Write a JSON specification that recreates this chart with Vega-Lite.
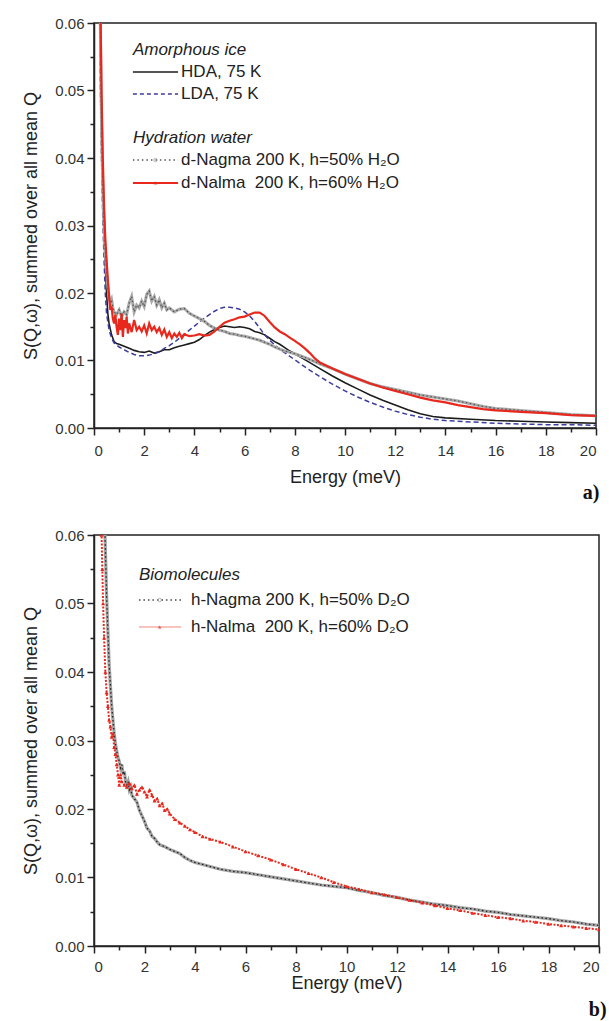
{
  "$schema": "https://vega.github.io/schema/vega-lite/v6.json",
  "background": "white",
  "padding": {"left": 22, "top": 15, "right": 0, "bottom": 0},
  "autosize": {"type": "pad"},
  "config": {
    "view": {"stroke": "#222", "strokeWidth": 1.5},
    "font": "Liberation Sans",
    "axis": {"domainColor": "#222", "domainWidth": 1.5, "tickColor": "#222", "tickWidth": 1.5, "labelColor": "#333", "labelFont": "Liberation Sans", "labelFontSize": 15, "titleFont": "Liberation Sans", "titleFontWeight": "normal", "titleColor": "#222", "titleFontSize": 18, "grid": false}
  },
  "datasets": {
    "top": [
      {"s":"HDA","E":0.15,"S":0.09},{"s":"HDA","E":0.2,"S":0.075},{"s":"HDA","E":0.25,"S":0.058},{"s":"HDA","E":0.3,"S":0.045},{"s":"HDA","E":0.35,"S":0.036},{"s":"HDA","E":0.4,"S":0.029},{"s":"HDA","E":0.45,"S":0.024},{"s":"HDA","E":0.5,"S":0.02},{"s":"HDA","E":0.55,"S":0.017},{"s":"HDA","E":0.6,"S":0.0155},{"s":"HDA","E":0.7,"S":0.0138},{"s":"HDA","E":0.8,"S":0.0128},{"s":"HDA","E":0.9,"S":0.0125},{"s":"HDA","E":1.0,"S":0.0124},{"s":"HDA","E":1.2,"S":0.0121},{"s":"HDA","E":1.4,"S":0.0118},{"s":"HDA","E":1.6,"S":0.0115},{"s":"HDA","E":1.8,"S":0.0113},{"s":"HDA","E":2.0,"S":0.0112},{"s":"HDA","E":2.2,"S":0.0114},{"s":"HDA","E":2.4,"S":0.0111},{"s":"HDA","E":2.6,"S":0.0113},{"s":"HDA","E":2.8,"S":0.0116},{"s":"HDA","E":3.0,"S":0.0116},{"s":"HDA","E":3.2,"S":0.0119},{"s":"HDA","E":3.4,"S":0.0121},{"s":"HDA","E":3.6,"S":0.0123},{"s":"HDA","E":3.8,"S":0.0125},{"s":"HDA","E":4.0,"S":0.0127},{"s":"HDA","E":4.2,"S":0.0131},{"s":"HDA","E":4.4,"S":0.0137},{"s":"HDA","E":4.6,"S":0.0142},{"s":"HDA","E":4.8,"S":0.0146},{"s":"HDA","E":5.0,"S":0.0149},{"s":"HDA","E":5.2,"S":0.0151},{"s":"HDA","E":5.4,"S":0.015},{"s":"HDA","E":5.6,"S":0.0149},{"s":"HDA","E":5.8,"S":0.015},{"s":"HDA","E":6.0,"S":0.0149},{"s":"HDA","E":6.2,"S":0.0147},{"s":"HDA","E":6.4,"S":0.0143},{"s":"HDA","E":6.6,"S":0.0141},{"s":"HDA","E":6.8,"S":0.0138},{"s":"HDA","E":7.0,"S":0.0133},{"s":"HDA","E":7.2,"S":0.0128},{"s":"HDA","E":7.4,"S":0.0124},{"s":"HDA","E":7.6,"S":0.0119},{"s":"HDA","E":7.8,"S":0.0114},{"s":"HDA","E":8.0,"S":0.011},{"s":"HDA","E":8.5,"S":0.0099},{"s":"HDA","E":9.0,"S":0.0088},{"s":"HDA","E":9.5,"S":0.0077},{"s":"HDA","E":10,"S":0.0067},{"s":"HDA","E":10.5,"S":0.0058},{"s":"HDA","E":11,"S":0.0049},{"s":"HDA","E":11.5,"S":0.0041},{"s":"HDA","E":12,"S":0.0034},{"s":"HDA","E":12.5,"S":0.0027},{"s":"HDA","E":13,"S":0.0021},{"s":"HDA","E":13.5,"S":0.0017},{"s":"HDA","E":14,"S":0.0015},{"s":"HDA","E":15,"S":0.0013},{"s":"HDA","E":16,"S":0.0011},{"s":"HDA","E":17,"S":0.001},{"s":"HDA","E":18,"S":0.0009},{"s":"HDA","E":19,"S":0.0008},{"s":"HDA","E":20,"S":0.0007},
      {"s":"LDA","E":0.15,"S":0.09},{"s":"LDA","E":0.2,"S":0.07},{"s":"LDA","E":0.25,"S":0.052},{"s":"LDA","E":0.3,"S":0.04},{"s":"LDA","E":0.35,"S":0.031},{"s":"LDA","E":0.4,"S":0.025},{"s":"LDA","E":0.45,"S":0.02},{"s":"LDA","E":0.5,"S":0.017},{"s":"LDA","E":0.6,"S":0.0145},{"s":"LDA","E":0.7,"S":0.0133},{"s":"LDA","E":0.8,"S":0.0126},{"s":"LDA","E":1.0,"S":0.012},{"s":"LDA","E":1.2,"S":0.0116},{"s":"LDA","E":1.4,"S":0.0112},{"s":"LDA","E":1.6,"S":0.0109},{"s":"LDA","E":1.8,"S":0.0107},{"s":"LDA","E":2.0,"S":0.0107},{"s":"LDA","E":2.2,"S":0.0108},{"s":"LDA","E":2.4,"S":0.011},{"s":"LDA","E":2.6,"S":0.0113},{"s":"LDA","E":2.8,"S":0.0118},{"s":"LDA","E":3.0,"S":0.0122},{"s":"LDA","E":3.2,"S":0.0127},{"s":"LDA","E":3.4,"S":0.0133},{"s":"LDA","E":3.6,"S":0.0139},{"s":"LDA","E":3.8,"S":0.0145},{"s":"LDA","E":4.0,"S":0.0151},{"s":"LDA","E":4.2,"S":0.0157},{"s":"LDA","E":4.4,"S":0.0163},{"s":"LDA","E":4.6,"S":0.0168},{"s":"LDA","E":4.8,"S":0.0173},{"s":"LDA","E":5.0,"S":0.0177},{"s":"LDA","E":5.2,"S":0.0179},{"s":"LDA","E":5.4,"S":0.0179},{"s":"LDA","E":5.6,"S":0.0178},{"s":"LDA","E":5.8,"S":0.0176},{"s":"LDA","E":6.0,"S":0.0172},{"s":"LDA","E":6.2,"S":0.0166},{"s":"LDA","E":6.4,"S":0.0158},{"s":"LDA","E":6.6,"S":0.0148},{"s":"LDA","E":6.8,"S":0.0138},{"s":"LDA","E":7.0,"S":0.013},{"s":"LDA","E":7.2,"S":0.0123},{"s":"LDA","E":7.5,"S":0.0114},{"s":"LDA","E":8.0,"S":0.0101},{"s":"LDA","E":8.5,"S":0.0088},{"s":"LDA","E":9.0,"S":0.0076},{"s":"LDA","E":9.5,"S":0.0065},{"s":"LDA","E":10,"S":0.0055},{"s":"LDA","E":10.5,"S":0.0046},{"s":"LDA","E":11,"S":0.0038},{"s":"LDA","E":11.5,"S":0.0031},{"s":"LDA","E":12,"S":0.0025},{"s":"LDA","E":12.5,"S":0.002},{"s":"LDA","E":13,"S":0.0016},{"s":"LDA","E":13.5,"S":0.0013},{"s":"LDA","E":14,"S":0.0011},{"s":"LDA","E":15,"S":0.0009},{"s":"LDA","E":16,"S":0.0007},{"s":"LDA","E":17,"S":0.0006},{"s":"LDA","E":18,"S":0.0005},{"s":"LDA","E":19,"S":0.0005},{"s":"LDA","E":20,"S":0.0004},
      {"s":"dNagma","E":0.2,"S":0.08},{"s":"dNagma","E":0.25,"S":0.06},{"s":"dNagma","E":0.3,"S":0.045},{"s":"dNagma","E":0.35,"S":0.036},{"s":"dNagma","E":0.4,"S":0.03},{"s":"dNagma","E":0.45,"S":0.026},{"s":"dNagma","E":0.5,"S":0.0235},{"s":"dNagma","E":0.55,"S":0.021},{"s":"dNagma","E":0.6,"S":0.0195},{"s":"dNagma","E":0.65,"S":0.0185},{"s":"dNagma","E":0.7,"S":0.019},{"s":"dNagma","E":0.75,"S":0.0178},{"s":"dNagma","E":0.8,"S":0.0172},{"s":"dNagma","E":0.9,"S":0.0168},{"s":"dNagma","E":1.0,"S":0.0175},{"s":"dNagma","E":1.1,"S":0.0165},{"s":"dNagma","E":1.2,"S":0.0172},{"s":"dNagma","E":1.3,"S":0.0168},{"s":"dNagma","E":1.4,"S":0.0185},{"s":"dNagma","E":1.5,"S":0.0195},{"s":"dNagma","E":1.6,"S":0.0172},{"s":"dNagma","E":1.7,"S":0.0182},{"s":"dNagma","E":1.8,"S":0.0178},{"s":"dNagma","E":1.9,"S":0.0188},{"s":"dNagma","E":2.0,"S":0.018},{"s":"dNagma","E":2.1,"S":0.0198},{"s":"dNagma","E":2.2,"S":0.0203},{"s":"dNagma","E":2.3,"S":0.0188},{"s":"dNagma","E":2.4,"S":0.0195},{"s":"dNagma","E":2.5,"S":0.0182},{"s":"dNagma","E":2.6,"S":0.019},{"s":"dNagma","E":2.7,"S":0.0178},{"s":"dNagma","E":2.8,"S":0.0185},{"s":"dNagma","E":2.9,"S":0.0175},{"s":"dNagma","E":3.0,"S":0.0178},{"s":"dNagma","E":3.2,"S":0.0172},{"s":"dNagma","E":3.4,"S":0.0176},{"s":"dNagma","E":3.6,"S":0.0177},{"s":"dNagma","E":3.8,"S":0.017},{"s":"dNagma","E":4.0,"S":0.0166},{"s":"dNagma","E":4.2,"S":0.0162},{"s":"dNagma","E":4.4,"S":0.0158},{"s":"dNagma","E":4.6,"S":0.0152},{"s":"dNagma","E":4.8,"S":0.0148},{"s":"dNagma","E":5.0,"S":0.0145},{"s":"dNagma","E":5.2,"S":0.0143},{"s":"dNagma","E":5.4,"S":0.014},{"s":"dNagma","E":5.6,"S":0.0139},{"s":"dNagma","E":5.8,"S":0.0137},{"s":"dNagma","E":6.0,"S":0.0136},{"s":"dNagma","E":6.2,"S":0.0134},{"s":"dNagma","E":6.4,"S":0.0132},{"s":"dNagma","E":6.6,"S":0.013},{"s":"dNagma","E":6.8,"S":0.0127},{"s":"dNagma","E":7.0,"S":0.0124},{"s":"dNagma","E":7.2,"S":0.012},{"s":"dNagma","E":7.4,"S":0.0117},{"s":"dNagma","E":7.6,"S":0.0114},{"s":"dNagma","E":7.8,"S":0.0112},{"s":"dNagma","E":8.0,"S":0.011},{"s":"dNagma","E":8.5,"S":0.0103},{"s":"dNagma","E":9.0,"S":0.0095},{"s":"dNagma","E":9.5,"S":0.0088},{"s":"dNagma","E":10,"S":0.008},{"s":"dNagma","E":10.5,"S":0.0073},{"s":"dNagma","E":11,"S":0.0066},{"s":"dNagma","E":11.5,"S":0.0061},{"s":"dNagma","E":12,"S":0.0057},{"s":"dNagma","E":12.5,"S":0.0053},{"s":"dNagma","E":13,"S":0.0049},{"s":"dNagma","E":13.5,"S":0.0046},{"s":"dNagma","E":14,"S":0.0043},{"s":"dNagma","E":14.5,"S":0.004},{"s":"dNagma","E":15,"S":0.0036},{"s":"dNagma","E":15.5,"S":0.0032},{"s":"dNagma","E":16,"S":0.0029},{"s":"dNagma","E":17,"S":0.0026},{"s":"dNagma","E":18,"S":0.0023},{"s":"dNagma","E":19,"S":0.002},{"s":"dNagma","E":20,"S":0.0018},
      {"s":"dNalma","E":0.2,"S":0.085},{"s":"dNalma","E":0.25,"S":0.065},{"s":"dNalma","E":0.3,"S":0.05},{"s":"dNalma","E":0.35,"S":0.04},{"s":"dNalma","E":0.4,"S":0.033},{"s":"dNalma","E":0.45,"S":0.028},{"s":"dNalma","E":0.5,"S":0.025},{"s":"dNalma","E":0.55,"S":0.022},{"s":"dNalma","E":0.6,"S":0.0195},{"s":"dNalma","E":0.65,"S":0.0175},{"s":"dNalma","E":0.7,"S":0.018},{"s":"dNalma","E":0.75,"S":0.0162},{"s":"dNalma","E":0.8,"S":0.0155},{"s":"dNalma","E":0.85,"S":0.0168},{"s":"dNalma","E":0.9,"S":0.015},{"s":"dNalma","E":0.95,"S":0.0138},{"s":"dNalma","E":1.0,"S":0.0162},{"s":"dNalma","E":1.05,"S":0.0145},{"s":"dNalma","E":1.1,"S":0.017},{"s":"dNalma","E":1.15,"S":0.0135},{"s":"dNalma","E":1.2,"S":0.016},{"s":"dNalma","E":1.25,"S":0.0148},{"s":"dNalma","E":1.3,"S":0.0165},{"s":"dNalma","E":1.35,"S":0.014},{"s":"dNalma","E":1.4,"S":0.0155},{"s":"dNalma","E":1.5,"S":0.0142},{"s":"dNalma","E":1.6,"S":0.016},{"s":"dNalma","E":1.7,"S":0.0145},{"s":"dNalma","E":1.8,"S":0.015},{"s":"dNalma","E":1.9,"S":0.0143},{"s":"dNalma","E":2.0,"S":0.0152},{"s":"dNalma","E":2.1,"S":0.014},{"s":"dNalma","E":2.2,"S":0.0155},{"s":"dNalma","E":2.3,"S":0.0145},{"s":"dNalma","E":2.4,"S":0.015},{"s":"dNalma","E":2.5,"S":0.0142},{"s":"dNalma","E":2.6,"S":0.0148},{"s":"dNalma","E":2.7,"S":0.0138},{"s":"dNalma","E":2.8,"S":0.0146},{"s":"dNalma","E":2.9,"S":0.0135},{"s":"dNalma","E":3.0,"S":0.0142},{"s":"dNalma","E":3.1,"S":0.0133},{"s":"dNalma","E":3.2,"S":0.014},{"s":"dNalma","E":3.3,"S":0.0135},{"s":"dNalma","E":3.4,"S":0.0141},{"s":"dNalma","E":3.5,"S":0.0133},{"s":"dNalma","E":3.6,"S":0.0139},{"s":"dNalma","E":3.8,"S":0.0136},{"s":"dNalma","E":4.0,"S":0.0137},{"s":"dNalma","E":4.2,"S":0.0139},{"s":"dNalma","E":4.4,"S":0.0137},{"s":"dNalma","E":4.6,"S":0.0138},{"s":"dNalma","E":4.8,"S":0.0143},{"s":"dNalma","E":5.0,"S":0.015},{"s":"dNalma","E":5.2,"S":0.0156},{"s":"dNalma","E":5.4,"S":0.0159},{"s":"dNalma","E":5.6,"S":0.0161},{"s":"dNalma","E":5.8,"S":0.0164},{"s":"dNalma","E":6.0,"S":0.0165},{"s":"dNalma","E":6.2,"S":0.0168},{"s":"dNalma","E":6.4,"S":0.0171},{"s":"dNalma","E":6.6,"S":0.0171},{"s":"dNalma","E":6.8,"S":0.0166},{"s":"dNalma","E":7.0,"S":0.0157},{"s":"dNalma","E":7.2,"S":0.0149},{"s":"dNalma","E":7.4,"S":0.0143},{"s":"dNalma","E":7.6,"S":0.0139},{"s":"dNalma","E":7.8,"S":0.0134},{"s":"dNalma","E":8.0,"S":0.0129},{"s":"dNalma","E":8.2,"S":0.0124},{"s":"dNalma","E":8.4,"S":0.0118},{"s":"dNalma","E":8.6,"S":0.0111},{"s":"dNalma","E":8.8,"S":0.0103},{"s":"dNalma","E":9.0,"S":0.0097},{"s":"dNalma","E":9.5,"S":0.0088},{"s":"dNalma","E":10,"S":0.008},{"s":"dNalma","E":10.5,"S":0.0073},{"s":"dNalma","E":11,"S":0.0066},{"s":"dNalma","E":11.5,"S":0.006},{"s":"dNalma","E":12,"S":0.0055},{"s":"dNalma","E":12.5,"S":0.005},{"s":"dNalma","E":13,"S":0.0045},{"s":"dNalma","E":13.5,"S":0.0041},{"s":"dNalma","E":14,"S":0.0038},{"s":"dNalma","E":14.5,"S":0.0034},{"s":"dNalma","E":15,"S":0.0031},{"s":"dNalma","E":15.5,"S":0.0028},{"s":"dNalma","E":16,"S":0.0026},{"s":"dNalma","E":17,"S":0.0024},{"s":"dNalma","E":18,"S":0.0022},{"s":"dNalma","E":19,"S":0.0019},{"s":"dNalma","E":20,"S":0.0018}
    ],
    "bottom": [
      {"s":"hNagma","E":0.35,"S":0.075},{"s":"hNagma","E":0.4,"S":0.065},{"s":"hNagma","E":0.45,"S":0.058},{"s":"hNagma","E":0.5,"S":0.051},{"s":"hNagma","E":0.55,"S":0.046},{"s":"hNagma","E":0.6,"S":0.041},{"s":"hNagma","E":0.65,"S":0.038},{"s":"hNagma","E":0.7,"S":0.035},{"s":"hNagma","E":0.75,"S":0.033},{"s":"hNagma","E":0.8,"S":0.031},{"s":"hNagma","E":0.85,"S":0.0295},{"s":"hNagma","E":0.9,"S":0.0285},{"s":"hNagma","E":0.95,"S":0.0275},{"s":"hNagma","E":1.0,"S":0.027},{"s":"hNagma","E":1.05,"S":0.026},{"s":"hNagma","E":1.1,"S":0.0265},{"s":"hNagma","E":1.15,"S":0.025},{"s":"hNagma","E":1.2,"S":0.0255},{"s":"hNagma","E":1.25,"S":0.024},{"s":"hNagma","E":1.3,"S":0.0235},{"s":"hNagma","E":1.35,"S":0.024},{"s":"hNagma","E":1.4,"S":0.0228},{"s":"hNagma","E":1.45,"S":0.0232},{"s":"hNagma","E":1.5,"S":0.022},{"s":"hNagma","E":1.6,"S":0.0215},{"s":"hNagma","E":1.7,"S":0.021},{"s":"hNagma","E":1.8,"S":0.0198},{"s":"hNagma","E":1.9,"S":0.019},{"s":"hNagma","E":2.0,"S":0.0182},{"s":"hNagma","E":2.1,"S":0.0172},{"s":"hNagma","E":2.2,"S":0.0168},{"s":"hNagma","E":2.3,"S":0.016},{"s":"hNagma","E":2.4,"S":0.0157},{"s":"hNagma","E":2.5,"S":0.0152},{"s":"hNagma","E":2.6,"S":0.0148},{"s":"hNagma","E":2.8,"S":0.0145},{"s":"hNagma","E":3.0,"S":0.0141},{"s":"hNagma","E":3.2,"S":0.0138},{"s":"hNagma","E":3.4,"S":0.0135},{"s":"hNagma","E":3.6,"S":0.0129},{"s":"hNagma","E":3.8,"S":0.0125},{"s":"hNagma","E":4.0,"S":0.0122},{"s":"hNagma","E":4.3,"S":0.0119},{"s":"hNagma","E":4.6,"S":0.0116},{"s":"hNagma","E":5.0,"S":0.0112},{"s":"hNagma","E":5.5,"S":0.0109},{"s":"hNagma","E":6.0,"S":0.0107},{"s":"hNagma","E":6.5,"S":0.0104},{"s":"hNagma","E":7.0,"S":0.0101},{"s":"hNagma","E":7.5,"S":0.0098},{"s":"hNagma","E":8.0,"S":0.0095},{"s":"hNagma","E":8.5,"S":0.0092},{"s":"hNagma","E":9.0,"S":0.0089},{"s":"hNagma","E":9.5,"S":0.0087},{"s":"hNagma","E":10,"S":0.0085},{"s":"hNagma","E":10.5,"S":0.0081},{"s":"hNagma","E":11,"S":0.0078},{"s":"hNagma","E":11.5,"S":0.0074},{"s":"hNagma","E":12,"S":0.0071},{"s":"hNagma","E":12.5,"S":0.0067},{"s":"hNagma","E":13,"S":0.0064},{"s":"hNagma","E":13.5,"S":0.0061},{"s":"hNagma","E":14,"S":0.0059},{"s":"hNagma","E":14.5,"S":0.0056},{"s":"hNagma","E":15,"S":0.0054},{"s":"hNagma","E":15.5,"S":0.0051},{"s":"hNagma","E":16,"S":0.0049},{"s":"hNagma","E":16.5,"S":0.0046},{"s":"hNagma","E":17,"S":0.0044},{"s":"hNagma","E":17.5,"S":0.0042},{"s":"hNagma","E":18,"S":0.004},{"s":"hNagma","E":18.5,"S":0.0037},{"s":"hNagma","E":19,"S":0.0035},{"s":"hNagma","E":19.5,"S":0.0032},{"s":"hNagma","E":20,"S":0.003},
      {"s":"hNalma","E":0.25,"S":0.07},{"s":"hNalma","E":0.3,"S":0.06},{"s":"hNalma","E":0.33,"S":0.055},{"s":"hNalma","E":0.36,"S":0.05},{"s":"hNalma","E":0.4,"S":0.045},{"s":"hNalma","E":0.45,"S":0.04},{"s":"hNalma","E":0.5,"S":0.037},{"s":"hNalma","E":0.55,"S":0.035},{"s":"hNalma","E":0.6,"S":0.033},{"s":"hNalma","E":0.65,"S":0.032},{"s":"hNalma","E":0.7,"S":0.0305},{"s":"hNalma","E":0.75,"S":0.031},{"s":"hNalma","E":0.8,"S":0.029},{"s":"hNalma","E":0.85,"S":0.028},{"s":"hNalma","E":0.9,"S":0.0265},{"s":"hNalma","E":0.95,"S":0.025},{"s":"hNalma","E":1.0,"S":0.0235},{"s":"hNalma","E":1.05,"S":0.025},{"s":"hNalma","E":1.1,"S":0.024},{"s":"hNalma","E":1.2,"S":0.0235},{"s":"hNalma","E":1.3,"S":0.0232},{"s":"hNalma","E":1.4,"S":0.0238},{"s":"hNalma","E":1.5,"S":0.023},{"s":"hNalma","E":1.6,"S":0.0235},{"s":"hNalma","E":1.7,"S":0.0222},{"s":"hNalma","E":1.8,"S":0.0228},{"s":"hNalma","E":1.9,"S":0.0232},{"s":"hNalma","E":2.0,"S":0.0225},{"s":"hNalma","E":2.1,"S":0.0218},{"s":"hNalma","E":2.2,"S":0.0228},{"s":"hNalma","E":2.3,"S":0.022},{"s":"hNalma","E":2.4,"S":0.0212},{"s":"hNalma","E":2.5,"S":0.0215},{"s":"hNalma","E":2.6,"S":0.0205},{"s":"hNalma","E":2.7,"S":0.0208},{"s":"hNalma","E":2.8,"S":0.0198},{"s":"hNalma","E":2.9,"S":0.02},{"s":"hNalma","E":3.0,"S":0.0193},{"s":"hNalma","E":3.2,"S":0.0185},{"s":"hNalma","E":3.4,"S":0.018},{"s":"hNalma","E":3.6,"S":0.0175},{"s":"hNalma","E":3.8,"S":0.017},{"s":"hNalma","E":4.0,"S":0.0166},{"s":"hNalma","E":4.3,"S":0.016},{"s":"hNalma","E":4.6,"S":0.0156},{"s":"hNalma","E":5.0,"S":0.0152},{"s":"hNalma","E":5.5,"S":0.0145},{"s":"hNalma","E":6.0,"S":0.0138},{"s":"hNalma","E":6.5,"S":0.0132},{"s":"hNalma","E":7.0,"S":0.0126},{"s":"hNalma","E":7.5,"S":0.0119},{"s":"hNalma","E":8.0,"S":0.0112},{"s":"hNalma","E":8.5,"S":0.0106},{"s":"hNalma","E":9.0,"S":0.01},{"s":"hNalma","E":9.5,"S":0.0093},{"s":"hNalma","E":10,"S":0.0087},{"s":"hNalma","E":10.5,"S":0.0083},{"s":"hNalma","E":11,"S":0.0078},{"s":"hNalma","E":11.5,"S":0.0075},{"s":"hNalma","E":12,"S":0.0071},{"s":"hNalma","E":12.5,"S":0.0067},{"s":"hNalma","E":13,"S":0.0063},{"s":"hNalma","E":13.5,"S":0.0059},{"s":"hNalma","E":14,"S":0.0055},{"s":"hNalma","E":14.5,"S":0.0052},{"s":"hNalma","E":15,"S":0.0048},{"s":"hNalma","E":15.5,"S":0.0045},{"s":"hNalma","E":16,"S":0.0042},{"s":"hNalma","E":16.5,"S":0.004},{"s":"hNalma","E":17,"S":0.0037},{"s":"hNalma","E":17.5,"S":0.0035},{"s":"hNalma","E":18,"S":0.0032},{"s":"hNalma","E":18.5,"S":0.003},{"s":"hNalma","E":19,"S":0.0028},{"s":"hNalma","E":19.5,"S":0.0026},{"s":"hNalma","E":20,"S":0.0024}
    ]
  },
  "bounds": "flush",
  "spacing": 107,
  "vconcat": [
    {
      "width": 502,
      "height": 405,
      "resolve": {"axis": {"x": "independent", "y": "independent"}},
      "layer": [
        {
          "data": {"name": "top"},
          "transform": [{"filter": "datum.s === 'HDA'"}],
          "mark": {"type": "line", "clip": true, "color": "#1c1c1c", "strokeWidth": 1.6},
          "encoding": {
            "x": {"field": "E", "type": "quantitative", "scale": {"domain": [0, 20], "nice": false, "zero": false},
                  "axis": {"orient": "bottom", "values": [0,2,4,6,8,10,12,14,16,18,20], "format": "d", "tickSize": 7, "labelPadding": 8, "title": "Energy (meV)", "titlePadding": 10}},
            "y": {"field": "S", "type": "quantitative", "scale": {"domain": [0, 0.06], "nice": false, "zero": false},
                  "axis": {"orient": "left", "values": [0,0.01,0.02,0.03,0.04,0.05,0.06], "format": ".2f", "tickSize": 7, "labelPadding": 3, "title": "S(Q,ω), summed over all mean Q", "titlePadding": 14}}
          }
        },
        {
          "data": {"name": "top"},
          "transform": [{"filter": "datum.s === 'LDA'"}],
          "mark": {"type": "line", "clip": true, "color": "#3d3d9e", "strokeWidth": 1.5, "strokeDash": [5, 3]},
          "encoding": {
            "x": {"field": "E", "type": "quantitative", "scale": {"domain": [0, 20], "nice": false, "zero": false},
                  "axis": {"orient": "bottom", "values": [1,3,5,7,9,11,13,15,17,19], "labels": false, "domain": false, "tickSize": 4, "title": null}},
            "y": {"field": "S", "type": "quantitative", "scale": {"domain": [0, 0.06], "nice": false, "zero": false},
                  "axis": {"orient": "left", "values": [0.005,0.015,0.025,0.035,0.045,0.055], "labels": false, "domain": false, "tickSize": 4, "title": null}}
          }
        },
        {
          "data": {"name": "top"},
          "transform": [{"filter": "datum.s === 'dNagma'"}],
          "mark": {"type": "line", "clip": true, "color": "#a9a9a9", "strokeWidth": 3},
          "encoding": {
            "x": {"field": "E", "type": "quantitative", "scale": {"domain": [0, 20], "nice": false, "zero": false}, "axis": null},
            "y": {"field": "S", "type": "quantitative", "scale": {"domain": [0, 0.06], "nice": false, "zero": false}, "axis": null}
          }
        },
        {
          "data": {"name": "top"},
          "transform": [{"filter": "datum.s === 'dNagma'"}],
          "mark": {"type": "line", "clip": true, "color": "#555555", "strokeWidth": 1.2, "strokeDash": [1.5, 2.5]},
          "encoding": {
            "x": {"field": "E", "type": "quantitative", "scale": {"domain": [0, 20], "nice": false, "zero": false}, "axis": null},
            "y": {"field": "S", "type": "quantitative", "scale": {"domain": [0, 0.06], "nice": false, "zero": false}, "axis": null}
          }
        },
        {
          "data": {"name": "top"},
          "transform": [{"filter": "datum.s === 'dNalma'"}],
          "mark": {"type": "line", "clip": true, "color": "#e8281c", "strokeWidth": 2.2},
          "encoding": {
            "x": {"field": "E", "type": "quantitative", "scale": {"domain": [0, 20], "nice": false, "zero": false}, "axis": null},
            "y": {"field": "S", "type": "quantitative", "scale": {"domain": [0, 0.06], "nice": false, "zero": false}, "axis": null}
          }
        },
        {
          "data": {"values": [{"x": 1.55, "x2": 3.35, "y": 0.05274}]},
          "mark": {"type": "rule", "color": "#1c1c1c", "strokeWidth": 1.6},
          "encoding": {
            "x": {"field": "x", "type": "quantitative", "scale": {"domain": [0, 20], "nice": false, "zero": false}, "axis": null},
            "x2": {"field": "x2"},
            "y": {"field": "y", "type": "quantitative", "scale": {"domain": [0, 0.06], "nice": false, "zero": false}, "axis": null}
          }
        },
        {
          "data": {"values": [{"x": 1.55, "x2": 3.35, "y": 0.04948}]},
          "mark": {"type": "rule", "color": "#3d3d9e", "strokeWidth": 1.5, "strokeDash": [4, 3]},
          "encoding": {
            "x": {"field": "x", "type": "quantitative", "scale": {"domain": [0, 20], "nice": false, "zero": false}, "axis": null},
            "x2": {"field": "x2"},
            "y": {"field": "y", "type": "quantitative", "scale": {"domain": [0, 0.06], "nice": false, "zero": false}, "axis": null}
          }
        },
        {
          "data": {"values": [{"x": 1.55, "x2": 3.35, "y": 0.0397}]},
          "mark": {"type": "rule", "color": "#555555", "strokeWidth": 1.5, "strokeDash": [1.5, 3]},
          "encoding": {
            "x": {"field": "x", "type": "quantitative", "scale": {"domain": [0, 20], "nice": false, "zero": false}, "axis": null},
            "x2": {"field": "x2"},
            "y": {"field": "y", "type": "quantitative", "scale": {"domain": [0, 0.06], "nice": false, "zero": false}, "axis": null}
          }
        },
        {
          "data": {"values": [{"x": 1.55, "x2": 3.35, "y": 0.0363}]},
          "mark": {"type": "rule", "color": "#e8281c", "strokeWidth": 2},
          "encoding": {
            "x": {"field": "x", "type": "quantitative", "scale": {"domain": [0, 20], "nice": false, "zero": false}, "axis": null},
            "x2": {"field": "x2"},
            "y": {"field": "y", "type": "quantitative", "scale": {"domain": [0, 0.06], "nice": false, "zero": false}, "axis": null}
          }
        },
        {
          "data": {"values": [{"x": 2.45, "y": 0.0397}]},
          "mark": {"type": "point", "shape": "circle", "filled": false, "size": 12, "color": "#999999", "strokeWidth": 1},
          "encoding": {
            "x": {"field": "x", "type": "quantitative", "scale": {"domain": [0, 20], "nice": false, "zero": false}, "axis": null},
            "y": {"field": "y", "type": "quantitative", "scale": {"domain": [0, 0.06], "nice": false, "zero": false}, "axis": null}
          }
        },
        {
          "data": {"values": [{"x": 2.45, "y": 0.0363}]},
          "mark": {"type": "point", "shape": "triangle-up", "filled": true, "size": 14, "color": "#e8281c"},
          "encoding": {
            "x": {"field": "x", "type": "quantitative", "scale": {"domain": [0, 20], "nice": false, "zero": false}, "axis": null},
            "y": {"field": "y", "type": "quantitative", "scale": {"domain": [0, 0.06], "nice": false, "zero": false}, "axis": null}
          }
        },
        {
          "data": {"values": [{"x": 1.55, "y": 0.056, "t": "Amorphous ice"}, {"x": 1.55, "y": 0.04296, "t": "Hydration water"}]},
          "mark": {"type": "text", "align": "left", "baseline": "middle", "fontSize": 17, "fontStyle": "italic", "color": "#222", "font": "Liberation Sans"},
          "encoding": {
            "x": {"field": "x", "type": "quantitative", "scale": {"domain": [0, 20], "nice": false, "zero": false}, "axis": null},
            "y": {"field": "y", "type": "quantitative", "scale": {"domain": [0, 0.06], "nice": false, "zero": false}, "axis": null},
            "text": {"field": "t"}
          }
        },
        {
          "data": {"values": [{"x": 3.47, "y": 0.05274, "t": "HDA, 75 K"}, {"x": 3.47, "y": 0.04948, "t": "LDA, 75 K"}, {"x": 3.47, "y": 0.0397, "t": "d-Nagma 200 K, h=50% H₂O"}, {"x": 3.47, "y": 0.0363, "t": "d-Nalma\u00a0\u00a0200 K, h=60% H₂O"}]},
          "mark": {"type": "text", "align": "left", "baseline": "middle", "fontSize": 17, "color": "#222", "font": "Liberation Sans"},
          "encoding": {
            "x": {"field": "x", "type": "quantitative", "scale": {"domain": [0, 20], "nice": false, "zero": false}, "axis": null},
            "y": {"field": "y", "type": "quantitative", "scale": {"domain": [0, 0.06], "nice": false, "zero": false}, "axis": null},
            "text": {"field": "t"}
          }
        },
        {
          "data": {"values": [{"x": 19.8, "y": -0.0096, "t": "a)"}]},
          "mark": {"type": "text", "align": "center", "baseline": "middle", "fontSize": 20, "fontWeight": "bold", "color": "#111", "font": "Liberation Serif", "clip": false},
          "encoding": {
            "x": {"field": "x", "type": "quantitative", "scale": {"domain": [0, 20], "nice": false, "zero": false}, "axis": null},
            "y": {"field": "y", "type": "quantitative", "scale": {"domain": [0, 0.06], "nice": false, "zero": false}, "axis": null},
            "text": {"field": "t"}
          }
        }
      ]
    },
    {
      "width": 505,
      "height": 411,
      "resolve": {"axis": {"x": "independent", "y": "independent"}},
      "layer": [
        {
          "data": {"name": "bottom"},
          "transform": [{"filter": "datum.s === 'hNagma'"}],
          "mark": {"type": "line", "clip": true, "color": "#a3a3a3", "strokeWidth": 3.2},
          "encoding": {
            "x": {"field": "E", "type": "quantitative", "scale": {"domain": [0, 20], "nice": false, "zero": false},
                  "axis": {"orient": "bottom", "values": [0,2,4,6,8,10,12,14,16,18,20], "format": "d", "tickSize": 7, "labelPadding": 6, "title": "Energy (meV)", "titlePadding": 0}},
            "y": {"field": "S", "type": "quantitative", "scale": {"domain": [0, 0.06], "nice": false, "zero": false},
                  "axis": {"orient": "left", "values": [0,0.01,0.02,0.03,0.04,0.05,0.06], "format": ".2f", "tickSize": 7, "labelPadding": 3, "title": "S(Q,ω), summed over all mean Q", "titlePadding": 14}}
          }
        },
        {
          "data": {"name": "bottom"},
          "transform": [{"filter": "datum.s === 'hNagma'"}],
          "mark": {"type": "line", "clip": true, "color": "#222222", "strokeWidth": 1.3, "strokeDash": [1.5, 2.5]},
          "encoding": {
            "x": {"field": "E", "type": "quantitative", "scale": {"domain": [0, 20], "nice": false, "zero": false},
                  "axis": {"orient": "bottom", "values": [1,3,5,7,9,11,13,15,17,19], "labels": false, "domain": false, "tickSize": 4, "title": null}},
            "y": {"field": "S", "type": "quantitative", "scale": {"domain": [0, 0.06], "nice": false, "zero": false},
                  "axis": {"orient": "left", "values": [0.005,0.015,0.025,0.035,0.045,0.055], "labels": false, "domain": false, "tickSize": 4, "title": null}}
          }
        },
        {
          "data": {"name": "bottom"},
          "transform": [{"filter": "datum.s === 'hNalma'"}],
          "mark": {"type": "line", "clip": true, "color": "#e8281c", "strokeWidth": 2, "strokeDash": [2, 1.5]},
          "encoding": {
            "x": {"field": "E", "type": "quantitative", "scale": {"domain": [0, 20], "nice": false, "zero": false}, "axis": null},
            "y": {"field": "S", "type": "quantitative", "scale": {"domain": [0, 0.06], "nice": false, "zero": false}, "axis": null}
          }
        },
        {
          "data": {"name": "bottom"},
          "transform": [{"filter": "datum.s === 'hNalma'"}],
          "mark": {"type": "point", "clip": true, "shape": "triangle-up", "filled": true, "size": 16, "color": "#e8281c", "opacity": 1},
          "encoding": {
            "x": {"field": "E", "type": "quantitative", "scale": {"domain": [0, 20], "nice": false, "zero": false}, "axis": null},
            "y": {"field": "S", "type": "quantitative", "scale": {"domain": [0, 0.06], "nice": false, "zero": false}, "axis": null}
          }
        },
        {
          "data": {"values": [{"x": 1.78, "x2": 3.45, "y": 0.05051}]},
          "mark": {"type": "rule", "color": "#444444", "strokeWidth": 1.5, "strokeDash": [1.5, 3]},
          "encoding": {
            "x": {"field": "x", "type": "quantitative", "scale": {"domain": [0, 20], "nice": false, "zero": false}, "axis": null},
            "x2": {"field": "x2"},
            "y": {"field": "y", "type": "quantitative", "scale": {"domain": [0, 0.06], "nice": false, "zero": false}, "axis": null}
          }
        },
        {
          "data": {"values": [{"x": 1.78, "x2": 3.45, "y": 0.04657}]},
          "mark": {"type": "rule", "color": "#f08880", "strokeWidth": 1},
          "encoding": {
            "x": {"field": "x", "type": "quantitative", "scale": {"domain": [0, 20], "nice": false, "zero": false}, "axis": null},
            "x2": {"field": "x2"},
            "y": {"field": "y", "type": "quantitative", "scale": {"domain": [0, 0.06], "nice": false, "zero": false}, "axis": null}
          }
        },
        {
          "data": {"values": [{"x": 2.6, "y": 0.05051}]},
          "mark": {"type": "point", "shape": "circle", "filled": false, "size": 12, "color": "#999999", "strokeWidth": 1},
          "encoding": {
            "x": {"field": "x", "type": "quantitative", "scale": {"domain": [0, 20], "nice": false, "zero": false}, "axis": null},
            "y": {"field": "y", "type": "quantitative", "scale": {"domain": [0, 0.06], "nice": false, "zero": false}, "axis": null}
          }
        },
        {
          "data": {"values": [{"x": 2.6, "y": 0.04657}]},
          "mark": {"type": "point", "shape": "triangle-up", "filled": true, "size": 14, "color": "#e8281c"},
          "encoding": {
            "x": {"field": "x", "type": "quantitative", "scale": {"domain": [0, 20], "nice": false, "zero": false}, "axis": null},
            "y": {"field": "y", "type": "quantitative", "scale": {"domain": [0, 0.06], "nice": false, "zero": false}, "axis": null}
          }
        },
        {
          "data": {"values": [{"x": 1.78, "y": 0.05416, "t": "Biomolecules"}]},
          "mark": {"type": "text", "align": "left", "baseline": "middle", "fontSize": 17, "fontStyle": "italic", "color": "#222", "font": "Liberation Sans"},
          "encoding": {
            "x": {"field": "x", "type": "quantitative", "scale": {"domain": [0, 20], "nice": false, "zero": false}, "axis": null},
            "y": {"field": "y", "type": "quantitative", "scale": {"domain": [0, 0.06], "nice": false, "zero": false}, "axis": null},
            "text": {"field": "t"}
          }
        },
        {
          "data": {"values": [{"x": 3.84, "y": 0.05051, "t": "h-Nagma 200 K, h=50% D₂O"}, {"x": 3.84, "y": 0.04657, "t": "h-Nalma\u00a0\u00a0200 K, h=60% D₂O"}]},
          "mark": {"type": "text", "align": "left", "baseline": "middle", "fontSize": 17, "color": "#222", "font": "Liberation Sans"},
          "encoding": {
            "x": {"field": "x", "type": "quantitative", "scale": {"domain": [0, 20], "nice": false, "zero": false}, "axis": null},
            "y": {"field": "y", "type": "quantitative", "scale": {"domain": [0, 0.06], "nice": false, "zero": false}, "axis": null},
            "text": {"field": "t"}
          }
        },
        {
          "data": {"values": [{"x": 19.95, "y": -0.0093, "t": "b)"}]},
          "mark": {"type": "text", "align": "center", "baseline": "middle", "fontSize": 20, "fontWeight": "bold", "color": "#111", "font": "Liberation Serif", "clip": false},
          "encoding": {
            "x": {"field": "x", "type": "quantitative", "scale": {"domain": [0, 20], "nice": false, "zero": false}, "axis": null},
            "y": {"field": "y", "type": "quantitative", "scale": {"domain": [0, 0.06], "nice": false, "zero": false}, "axis": null},
            "text": {"field": "t"}
          }
        }
      ]
    }
  ]
}
